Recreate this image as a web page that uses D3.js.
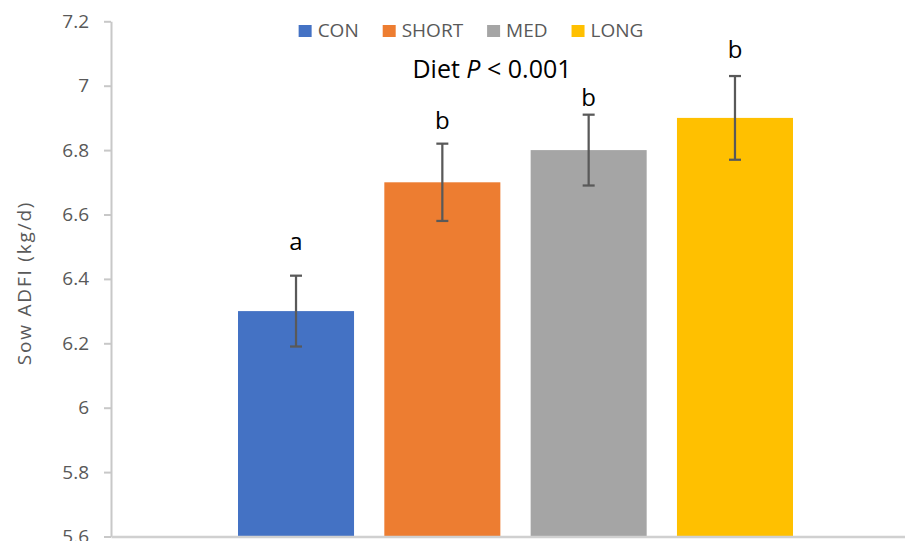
<!DOCTYPE html>
<html>
<head>
<meta charset="utf-8">
<script src="https://cdn.jsdelivr.net/npm/d3@7"></script>
<style>
  body { margin: 0; background: #fff; }
  text { font-family: "Open Sans", sans-serif; }
</style>
</head>
<body>
<div id="chart"></div>
<script>
// data
const categories = ['CON', 'SHORT', 'MED', 'LONG']
const means = [6.30, 6.70, 6.80, 6.90]
const errors = [0.11, 0.12, 0.11, 0.13]
const letters = ['a', 'b', 'b', 'b']
const letterAt = [6.49, 6.866, 6.937, 7.086]   // baseline of the letters, in y units
const colors = ['#4472C4', '#ED7D31', '#A5A5A5', '#FFC000']
const yTicks = [5.6, 5.8, 6, 6.2, 6.4, 6.6, 6.8, 7, 7.2]

const W = 905, H = 541
const margin = { top: 21.3, left: 111, bottom: H - 536.5 }

const svg = d3.select('#chart')
    .append('svg')
    .attr('width', W)
    .attr('height', H)

const y = d3.scaleLinear()
    .domain([5.6, 7.2])
    .range([H - margin.bottom, margin.top])

const x = d3.scaleBand()
    .domain(categories)
    .range([margin.left, 920])
    .paddingInner(0.207)
    .paddingOuter(0.868)

// bars
svg.append('g')
    .selectAll('rect')
    .data(categories)
    .join('rect')
    .attr('x', d => x(d))
    .attr('width', x.bandwidth())
    .attr('y', (d, i) => y(means[i]))
    .attr('height', (d, i) => y(5.6) - y(means[i]))
    .attr('fill', (d, i) => colors[i])

// y axis
const yAxis = svg.append('g')
    .attr('transform', `translate(${margin.left},0)`)
    .call(d3.axisLeft(y)
        .tickValues(yTicks)
        .tickFormat(d => String(+d.toFixed(1)))
        .tickSize(7)
        .tickSizeOuter(0)
        .tickPadding(15))
yAxis.select('.domain').attr('stroke', '#c8c8c8').attr('stroke-width', 2)
yAxis.selectAll('.tick line').attr('stroke', '#c8c8c8').attr('stroke-width', 2)
yAxis.selectAll('.tick text')
    .attr('fill', '#595959')
    .style('font-size', '19px')

// x axis (no labels visible)
const xAxis = svg.append('g')
    .attr('transform', `translate(0,${y(5.6)})`)
    .call(d3.axisBottom(x).tickSize(0).tickSizeOuter(0).tickFormat(''))
xAxis.select('.domain').attr('stroke', '#d0d0d0').attr('stroke-width', 2.5)

// error bars
const eb = svg.append('g')
    .attr('stroke', '#595959')
    .attr('stroke-width', 2.25)
    .selectAll('g')
    .data(categories)
    .join('g')
    .attr('transform', d => `translate(${x(d) + x.bandwidth() / 2},0)`)
eb.append('line')
    .attr('y1', (d, i) => y(means[i] + errors[i]))
    .attr('y2', (d, i) => y(means[i] - errors[i]))
eb.append('line')
    .attr('x1', -6).attr('x2', 6)
    .attr('y1', (d, i) => y(means[i] + errors[i]))
    .attr('y2', (d, i) => y(means[i] + errors[i]))
eb.append('line')
    .attr('x1', -6).attr('x2', 6)
    .attr('y1', (d, i) => y(means[i] - errors[i]))
    .attr('y2', (d, i) => y(means[i] - errors[i]))

// significance letters
svg.append('g')
    .selectAll('text')
    .data(categories)
    .join('text')
    .attr('x', d => x(d) + x.bandwidth() / 2)
    .attr('y', (d, i) => y(letterAt[i]))
    .attr('text-anchor', 'middle')
    .style('font-size', '24px')
    .attr('fill', '#000')
    .text((d, i) => letters[i])

// diet p-value note
const note = svg.append('text')
    .attr('x', 492)
    .attr('y', 78)
    .attr('text-anchor', 'middle')
    .style('font-size', '25px')
    .attr('fill', '#000')
note.append('tspan').text('Diet ')
note.append('tspan').style('font-style', 'italic').text('P')
note.append('tspan').text(' < 0.001')

// y axis title
svg.append('text')
    .attr('transform', `translate(31,283)rotate(-90)`)
    .attr('text-anchor', 'middle')
    .attr('fill', '#595959')
    .style('font-size', '19px')
    .style('letter-spacing', '1.8px')
    .text('Sow ADFI (kg/d)')

// legend
const legend = svg.append('g').attr('transform', 'translate(0,25)')
const items = legend.selectAll('g')
    .data(categories)
    .join('g')
items.append('rect')
    .attr('width', 13)
    .attr('height', 12)
    .attr('fill', (d, i) => colors[i])
items.append('text')
    .attr('x', 19)
    .attr('y', 12)
    .attr('fill', '#595959')
    .style('font-size', '19px')
    .text(d => d)
let offset = 0
const widths = []
items.each(function () {
    const w = 19 + this.querySelector('text').getComputedTextLength()
    widths.push(w)
})
const gap = 24
const total = d3.sum(widths) + gap * (widths.length - 1)
let start = 471 - total / 2
items.attr('transform', (d, i) => {
    const tx = start + offset
    offset += widths[i] + gap
    return `translate(${tx},0)`
})
</script>
</body>
</html>
